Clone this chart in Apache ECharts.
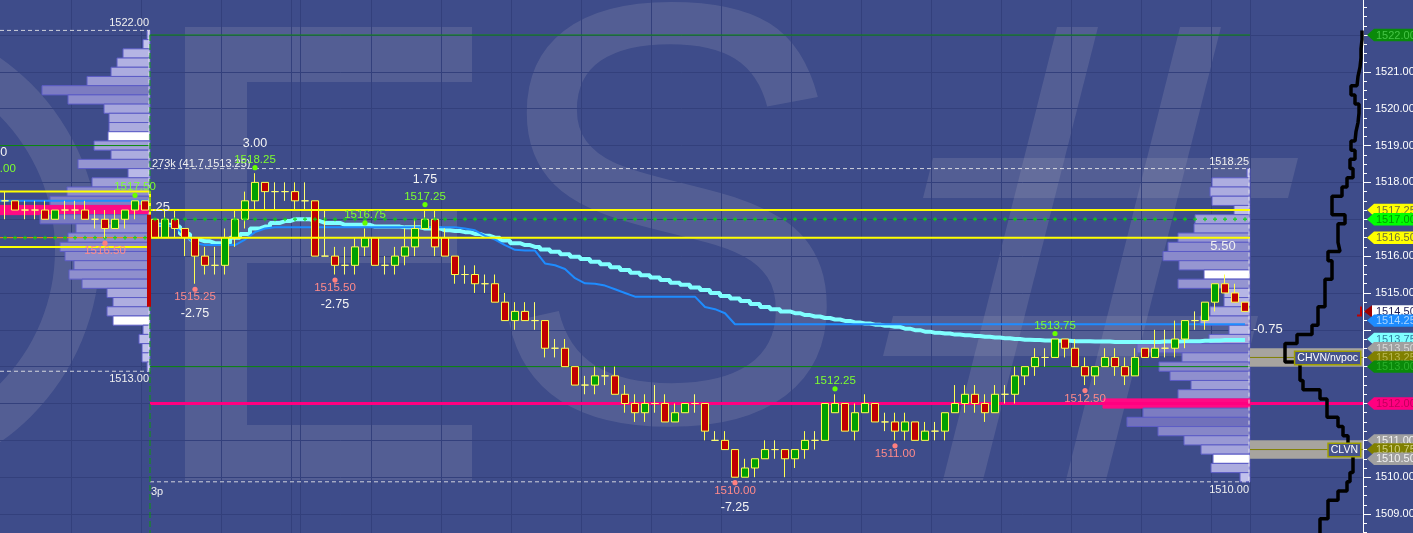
<!DOCTYPE html>
<html>
<head>
<meta charset="utf-8">
<script src="https://cdn.jsdelivr.net/npm/echarts@6/dist/echarts.min.js"></script>
<style>
html,body{margin:0;padding:0;background:#3e4c8a;overflow:hidden;width:1413px;height:533px;}
#chart{position:absolute;left:0;top:-2px;width:1413px;height:556px;}
</style>
</head>
<body>
<div id="chart"></div>
<script>
// ================= DATA =================
// candles: [open, close, low, high]; index 0-14 = previous session tail, 15+ = current session
const candles = [
[1517.5,1517.5,1517.0,1517.75],[1517.5,1517.25,1517.25,1517.5],[1517.25,1517.25,1517.0,1517.5],
[1517.25,1517.25,1517.0,1517.5],[1517.25,1517.0,1517.0,1517.5],[1517.0,1517.25,1517.0,1517.25],
[1517.25,1517.25,1517.0,1517.5],[1517.25,1517.25,1517.0,1517.5],[1517.25,1517.0,1517.0,1517.5],
[1517.0,1517.0,1516.75,1517.25],[1517.0,1516.75,1516.5,1517.25],[1516.75,1517.0,1516.75,1517.25],
[1517.0,1517.25,1516.75,1517.25],[1517.25,1517.5,1517.0,1517.5],[1517.5,1517.25,1517.25,1517.5],
[1517.0,1516.5,1516.5,1517.0],[1516.5,1517.0,1516.5,1517.25],[1517.0,1516.75,1516.5,1517.25],
[1516.75,1516.5,1516.0,1516.75],[1516.5,1516.0,1515.25,1516.5],[1516.0,1515.75,1515.5,1516.25],
[1515.75,1515.75,1515.5,1516.25],[1515.75,1516.5,1515.5,1516.75],[1516.5,1517.0,1516.25,1517.25],
[1517.0,1517.5,1516.75,1517.75],[1517.5,1518.0,1517.25,1518.25],[1518.0,1517.75,1517.25,1518.0],
[1517.75,1517.75,1517.25,1518.0],[1517.75,1517.75,1517.5,1518.0],[1517.75,1517.5,1517.25,1518.0],
[1517.5,1517.5,1517.25,1518.0],[1517.5,1516.0,1516.0,1517.5],[1516.0,1516.0,1516.0,1517.25],
[1516.0,1515.75,1515.5,1516.25],[1515.75,1515.75,1515.5,1516.25],[1515.75,1516.25,1515.5,1516.5],
[1516.25,1516.5,1516.0,1516.75],[1516.5,1515.75,1515.75,1516.5],[1515.75,1515.75,1515.5,1516.0],
[1515.75,1516.0,1515.5,1516.25],[1516.0,1516.25,1515.75,1516.75],[1516.25,1516.75,1516.0,1517.0],
[1516.75,1517.0,1516.75,1517.25],[1517.0,1516.25,1516.0,1517.25],[1516.5,1516.0,1516.0,1516.75],
[1516.0,1515.5,1515.25,1516.0],[1515.5,1515.5,1515.25,1515.75],[1515.5,1515.25,1515.0,1515.75],
[1515.25,1515.25,1515.0,1515.5],[1515.25,1514.75,1514.75,1515.5],[1514.75,1514.25,1514.25,1515.0],
[1514.25,1514.5,1514.0,1514.75],[1514.5,1514.25,1514.25,1514.75],[1514.25,1514.25,1514.0,1514.75],
[1514.25,1513.5,1513.25,1514.25],[1513.5,1513.5,1513.25,1513.75],[1513.5,1513.0,1513.0,1513.75],
[1513.0,1512.5,1512.5,1513.0],[1512.5,1512.5,1512.25,1512.75],[1512.5,1512.75,1512.25,1513.0],
[1512.75,1512.75,1512.5,1513.0],[1512.75,1512.25,1512.25,1513.0],[1512.25,1512.0,1511.75,1512.5],
[1512.0,1511.75,1511.5,1512.25],[1511.75,1512.0,1511.5,1512.25],[1512.0,1512.0,1511.75,1512.5],
[1512.0,1511.5,1511.5,1512.25],[1511.5,1511.75,1511.5,1512.0],[1511.75,1512.0,1511.75,1512.0],
[1512.0,1512.0,1511.75,1512.25],[1512.0,1511.25,1511.0,1512.0],[1511.0,1511.0,1511.0,1511.25],
[1511.0,1510.75,1510.75,1511.25],[1510.75,1510.0,1510.0,1510.75],[1510.0,1510.25,1510.0,1510.5],
[1510.25,1510.5,1510.0,1510.5],[1510.5,1510.75,1510.5,1511.0],[1510.75,1510.75,1510.5,1511.0],
[1510.75,1510.5,1510.0,1510.75],[1510.5,1510.75,1510.25,1510.75],[1510.75,1511.0,1510.5,1511.25],
[1511.0,1511.0,1510.75,1511.25],[1511.0,1512.0,1511.0,1512.0],[1511.75,1512.0,1511.75,1512.25],
[1512.0,1511.25,1511.25,1512.0],[1511.25,1511.75,1511.0,1512.0],[1511.75,1512.0,1511.75,1512.25],
[1512.0,1511.5,1511.5,1512.0],[1511.5,1511.5,1511.25,1511.75],[1511.5,1511.25,1511.0,1511.75],
[1511.25,1511.5,1511.0,1511.75],[1511.5,1511.0,1511.0,1511.5],[1511.0,1511.25,1511.0,1511.5],
[1511.25,1511.25,1511.0,1511.5],[1511.25,1511.75,1511.0,1511.75],[1511.75,1512.0,1511.75,1512.5],
[1512.0,1512.25,1511.75,1512.5],[1512.25,1512.0,1511.75,1512.5],[1512.0,1511.75,1511.5,1512.25],
[1511.75,1512.25,1511.75,1512.5],[1512.25,1512.25,1512.0,1512.5],[1512.25,1512.75,1512.0,1513.0],
[1512.75,1513.0,1512.5,1513.0],[1513.0,1513.25,1512.75,1513.5],[1513.25,1513.25,1513.0,1513.5],
[1513.25,1513.75,1513.25,1513.75],[1513.75,1513.5,1513.25,1513.75],[1513.5,1513.0,1513.0,1513.75],
[1513.0,1512.75,1512.5,1513.25],[1512.75,1513.0,1512.5,1513.0],[1513.0,1513.25,1513.0,1513.5],
[1513.25,1513.0,1512.75,1513.5],[1513.0,1512.75,1512.5,1513.25],[1512.75,1513.25,1512.75,1513.5],
[1513.5,1513.25,1513.25,1513.5],[1513.25,1513.5,1513.25,1514.0],[1513.5,1513.5,1513.25,1514.0],
[1513.5,1513.75,1513.25,1514.25],[1513.75,1514.25,1513.5,1514.25],[1514.25,1514.25,1514.0,1514.5],
[1514.25,1514.75,1514.0,1514.75],[1514.75,1515.25,1514.5,1515.25],[1515.25,1515.0,1515.0,1515.5],
[1515.0,1514.75,1514.75,1515.25],[1514.75,1514.5,1514.5,1514.75]
];
const sessionStartIndex = 15;

// VWAP (cyan) and second average (blue), one value per session bar
const vwapValues = [
1516.85,1516.85,1516.8,1516.6,1516.45,1516.4,1516.35,1516.35,1516.5,1516.6,
1516.75,1516.8,1516.9,1516.95,1517.0,1517.0,1516.95,1516.9,1516.9,1516.85,
1516.85,1516.85,1516.8,1516.8,1516.8,1516.78,1516.78,1516.75,1516.75,1516.7,
1516.68,1516.65,1516.6,1516.55,1516.5,1516.42,1516.35,1516.3,1516.25,1516.18,
1516.12,1516.05,1515.98,1515.92,1515.85,1515.78,1515.7,1515.62,1515.55,1515.48,
1515.42,1515.35,1515.28,1515.22,1515.15,1515.08,1515.0,1514.92,1514.85,1514.78,
1514.7,1514.62,1514.56,1514.5,1514.45,1514.4,1514.36,1514.32,1514.28,1514.24,
1514.2,1514.17,1514.14,1514.11,1514.08,1514.03,1513.99,1513.95,1513.92,1513.9,
1513.87,1513.85,1513.83,1513.81,1513.79,1513.77,1513.75,1513.73,1513.72,1513.71,
1513.7,1513.7,1513.69,1513.69,1513.68,1513.68,1513.67,1513.67,1513.67,1513.67,
1513.67,1513.68,1513.68,1513.69,1513.69,1513.7,1513.71,1513.72,1513.72,1513.72
];
const avg2Values = [
1516.85,1516.85,1516.8,1516.55,1516.35,1516.3,1516.3,1516.3,1516.3,1516.45,
1516.65,1516.75,1516.78,1516.78,1516.78,1516.78,1516.78,1516.78,1516.78,1516.78,
1516.78,1516.78,1516.78,1516.78,1516.78,1516.78,1516.78,1516.78,1516.78,1516.78,
1516.78,1516.75,1516.7,1516.55,1516.45,1516.3,1516.17,1516.15,1516.15,1515.8,
1515.75,1515.65,1515.4,1515.26,1515.25,1515.2,1515.1,1515.0,1514.9,1514.9,
1514.9,1514.9,1514.9,1514.9,1514.9,1514.62,1514.56,1514.45,1514.15,1514.15,
1514.15,1514.15,1514.15,1514.15,1514.15,1514.15,1514.15,1514.15,1514.15,1514.15,
1514.15,1514.15,1514.15,1514.15,1514.15,1514.15,1514.15,1514.15,1514.15,1514.15,
1514.15,1514.15,1514.15,1514.15,1514.15,1514.15,1514.15,1514.15,1514.15,1514.15,
1514.15,1514.15,1514.15,1514.15,1514.15,1514.15,1514.15,1514.15,1514.15,1514.15,
1514.15,1514.15,1514.15,1514.15,1514.15,1514.15,1514.15,1514.15,1514.15,1514.15
];

// Volume profiles: [price, volume]
const rightProfile = [
[1518.25,3],[1518.0,38],[1517.75,40],[1517.5,38],[1517.25,16],[1517.0,55],[1516.75,56],[1516.5,72],
[1516.25,82],[1516.0,87],[1515.75,71],[1515.5,46],[1515.25,72],[1515.0,26],[1514.75,26],[1514.5,40],
[1514.25,50],[1514.0,21],[1513.75,41],[1513.5,113],[1513.25,68],[1513.0,91],[1512.75,80],[1512.5,59],
[1512.25,72],[1512.0,147],[1511.75,107],[1511.5,123],[1511.25,92],[1511.0,66],[1510.75,49],[1510.5,37],
[1510.25,39],[1510.0,10]
];
const rightProfileHvn = [1515.5, 1510.5];
const rightProfilePoc = 1512.0;
const leftProfile = [
[1522.0,3],[1521.75,7],[1521.5,27],[1521.25,33],[1521.0,39],[1520.75,63],[1520.5,108],[1520.25,82],
[1520.0,46],[1519.75,41],[1519.5,41],[1519.25,42],[1519.0,56],[1518.75,39],[1518.5,72],[1518.25,22],
[1518.0,58],[1517.75,83],[1517.5,100],[1517.25,170],[1517.0,110],[1516.75,74],[1516.5,82],[1516.25,90],
[1516.0,85],[1515.75,76],[1515.5,81],[1515.25,68],[1515.0,43],[1514.75,37],[1514.5,43],[1514.25,37],
[1514.0,7],[1513.75,11],[1513.5,8],[1513.25,8],[1513.0,3]
];
const leftProfileHvn = [1519.25, 1514.25];
const leftProfilePoc = 1517.25;

// stepped outline on the far right: [price, value]
const tpoOutline = [
[1522.0,112],[1521.75,111],[1521.5,111],[1521.25,110],[1521.0,108],[1520.75,107],[1520.5,101],[1520.25,105],
[1520.0,109],[1519.75,108],[1519.5,106],[1519.25,105],[1519.0,101],[1518.75,105],[1518.5,100],[1518.25,103],
[1518.0,97],[1517.75,92],[1517.5,82],[1517.25,82],[1517.0,95],[1516.75,88],[1516.5,88],[1516.25,90],
[1516.0,78],[1515.75,82],[1515.5,82],[1515.25,75],[1515.0,75],[1514.75,75],[1514.5,68],[1514.25,68],
[1514.0,62],[1513.75,47],[1513.5,35],[1513.25,35],[1513.0,50],[1512.75,50],[1512.5,53],[1512.25,70],
[1512.0,77],[1511.75,77],[1511.5,88],[1511.25,93],[1511.0,98],[1510.75,103],[1510.5,103],[1510.25,103],
[1510.0,100],[1509.75,97],[1509.5,88],[1509.25,78],[1509.0,78],[1508.75,70],[1508.5,70]
];

// swing points: [barIndex, price, side (1 high / -1 low), change]
const swings = [
[-1,1518.00,1,'1.50'],[13,1517.50,1,''],[10,1516.50,-1,''],
[25,1518.25,1,'3.00'],[19,1515.25,-1,'-2.75'],[36,1516.75,1,''],[42,1517.25,1,'1.75'],
[33,1515.50,-1,'-2.75'],[73,1510.00,-1,'-7.25'],[83,1512.25,1,''],[89,1511.00,-1,''],
[105,1513.75,1,''],[108,1512.50,-1,'']
];

// key levels
const valueAreaLevels = [1517.25, 1516.50];
const prevValueAreaLevels = [1517.75, 1516.25];
const vpocLevel = 1517.00;
const prevRangeLevels = [1522.00, 1513.00];
const nakedPocLevel = 1512.00;
const prevVwapLevel = 1517.5;
const prevBandLevel = 1519.0;
const prevOrangeLevel = 1516.5;
const openingRange = [1514.625, 1517.125];
const chvnBand = [1513.50, 1513.00];
const clvnBand = [1511.00, 1510.50];
const bandLabels = ['CHVN/nvpoc', 'CLVN'];

// axis tags
const tagPrices = [1522.00,1517.25,1517.00,1516.50,1514.50,1514.25,1513.75,1513.50,1513.25,1513.00,1512.00,1511.00,1510.75,1510.50];
const tagRoles  = ['prevHigh','vah','vpoc','val','last','avg2','vwap','chvnTop','chvnMid','prevLow','nakedPoc','clvnTop','clvnMid','clvnBot'];

// profile annotations: [anchor bar, price, text, role]
const profileNotes = [
[14.4,1522.125,'1522.00','hiR'],[14.4,1512.875,'1513.00','loR'],
[124.4,1518.375,'1518.25','hiR'],[124.4,1509.875,'1510.00','loR'],
[14.7,1518.375,'273k (41.7,1513.25)','hiL'],[14.6,1509.875,'3p','loL'],
[121.8,1516.25,'5.50','mid'],[124.8,1514.0,'-0.75','midL'],[14.7,1517.33,'.25','midL']
];
const timeGridBars = [6.6,13.6,21.6,28.6,29.5,36.6,43.6,50.6,57.6,64.6,71.6,78.6,85.6,92.6,99.6,106.6,113.6,120.6,124.5];

// ================= LAYOUT / STYLE =================
const FONT = "'Liberation Sans', Arial, sans-serif";
const NARROW = "'Liberation Sans Narrow', 'Liberation Sans', Arial, sans-serif";
const AXIS_X = 1363, BAR_PX = 10;
const X_MIN = -0.5, X_MAX = X_MIN + AXIS_X / BAR_PX;
const Y_MIN = 1508, Y_MAX = 1523;
const GT = 0.15, GH = 552.75;   // container is shifted up by 2px
const N = candles.length;
const S_EDGE = sessionStartIndex - 0.5, R_EDGE = N - 0.5;
const TICK = 0.25;
const TAG = {
  prevHigh:{fill:'#0a8a0a',text:'#46c446'}, vah:{fill:'#ffff00',text:'#6e6e3c'},
  vpoc:{fill:'#00ff00',text:'#009a00'}, val:{fill:'#ffff00',text:'#6e6e3c'},
  last:{fill:'#ffffff',text:'#1c1c55',arrow:'#a00000'}, avg2:{fill:'#1e8cff',text:'#a8d4ff'},
  vwap:{fill:'#80ffff',text:'#2f7fa0'}, chvnTop:{fill:'#a0a0a0',text:'#d8d8d8'},
  chvnMid:{fill:'#808000',text:'#b8b850'}, prevLow:{fill:'#0a8a0a',text:'#2ab02a'},
  nakedPoc:{fill:'#ff0080',text:'#c0005c'}, clvnTop:{fill:'#a0a0a0',text:'#f0f0f0'},
  clvnMid:{fill:'#808000',text:'#d0d080'}, clvnBot:{fill:'#a0a0a0',text:'#f0f0f0'}
};
const NOTE = {
  hiR:{align:'right',dy:-7,color:'#f0f0f0',size:11,font:NARROW},
  loR:{align:'right',dy:8,color:'#f0f0f0',size:11,font:NARROW},
  hiL:{align:'left',dy:-5,color:'#f0f0f0',size:11,font:NARROW},
  loL:{align:'left',dy:10,color:'#f0f0f0',size:11,font:NARROW},
  mid:{align:'center',dy:0,color:'#f0f0f0',size:13,font:FONT},
  midL:{align:'left',dy:0,color:'#f0f0f0',size:13,font:FONT}
};

function profColor(v){
  const t = Math.min(1, v/130);
  const a=[200,200,240], b=[108,108,184];
  return 'rgb('+a.map((c,k)=>Math.round(c+(b[k]-c)*t)).join(',')+')';
}
function seg(data, lineStyle, z){
  return {type:'line', xAxisIndex:0, yAxisIndex:0, data, symbol:'none', silent:true, lineStyle, z, animation:false};
}
function hSeg(price, x0, x1, lineStyle, z){ return seg([[x0,price],[x1,price]], lineStyle, z); }
function profileSeries(src, hvn, poc, gi){
  return {
    type:'custom', xAxisIndex:gi, yAxisIndex:gi, z:1, clip:false, silent:true,
    data: src.map(d=>[d[1], d[0]]), encode:{x:0,y:1},
    renderItem(params, api){
      const v = api.value(0), p = api.value(1);
      const a = api.coord([0, p + TICK/2]), b = api.coord([v, p - TICK/2]);
      let fill = profColor(v), stroke = '#5c5cc6';
      if (hvn.indexOf(p) >= 0) fill = '#ffffff';
      if (p === poc) { fill = '#ff0a84'; stroke = '#ff0a84'; }
      return {type:'rect', shape:{x:b[0], y:a[1], width:a[0]-b[0], height:b[1]-a[1]},
        style:{fill, stroke, lineWidth:1}};
    }
  };
}
const plusPath = 'path://M1,0H2V1H3V2H2V3H1V2H0V1H1Z';
const sessionIdx = candles.map((c,i)=>i).filter(i=>i>=sessionStartIndex);
const WM = 'rgba(168,168,188,0.2)';

const series = [];
series.push({type:'custom', xAxisIndex:0, yAxisIndex:0, z:0, silent:true, clip:false,
  data: timeGridBars.map(b=>[b, Y_MIN]),
  renderItem(params, api){
    const t = api.coord([timeGridBars[params.dataIndex], Y_MAX]);
    const x = Math.round(t[0]) + 0.5;
    return {type:'line', shape:{x1:x,y1:0,x2:x,y2:api.getHeight()}, style:{stroke:'#33407c', lineWidth:1}};
  }});
series.push(profileSeries(rightProfile, rightProfileHvn, rightProfilePoc, 1));
series.push(profileSeries(leftProfile, leftProfileHvn, leftProfilePoc, 2));
series.push({type:'custom', xAxisIndex:0, yAxisIndex:0, z:1, silent:true, clip:false,
  data:[chvnBand, clvnBand].map(b=>[R_EDGE, b[0], b[1]]),
  renderItem(params, api){
    const a = api.coord([R_EDGE, api.value(1)]), b = api.coord([X_MAX, api.value(2)]);
    return {type:'rect', shape:{x:a[0], y:a[1], width:b[0]-a[0], height:b[1]-a[1]}, style:{fill:'#a7a49f'}};
  }});
series.push(hSeg(nakedPocLevel, S_EDGE, X_MAX, {color:'#ff0080', width:3}, 3));
prevRangeLevels.forEach(p=>series.push(hSeg(p, S_EDGE, R_EDGE, {color:'#0a8a0a', width:1}, 3)));
series.push(hSeg(prevBandLevel, X_MIN, S_EDGE, {color:'#0a8a0a', width:1}, 3));
[ (chvnBand[0]+chvnBand[1])/2, (clvnBand[0]+clvnBand[1])/2 ].forEach(p=>series.push(hSeg(p, R_EDGE, X_MAX, {color:'#808000', width:1}, 3)));
series.push(hSeg(prevVwapLevel, X_MIN, S_EDGE, {color:'#1e8cff', width:2}, 3));
series.push(hSeg(prevOrangeLevel, X_MIN, S_EDGE, {color:'#ff8a00', width:1}, 3));
series.push({type:'scatter', xAxisIndex:0, yAxisIndex:0, z:3, silent:true, symbol:plusPath, symbolSize:4,
  itemStyle:{color:'#00e000'}, data: candles.map((c,i)=>i).filter(i=>i<sessionStartIndex).map(i=>[i, prevOrangeLevel])});
series.push({type:'line', xAxisIndex:0, yAxisIndex:0, z:4, symbol:'none', silent:true, step:'middle',
  data: vwapValues.map((v,k)=>[sessionStartIndex+k, v]), lineStyle:{color:'#80ffff', width:4}});
series.push({type:'line', xAxisIndex:0, yAxisIndex:0, z:4, symbol:'none', silent:true,
  data: avg2Values.map((v,k)=>[sessionStartIndex+k, v]), lineStyle:{color:'#1e8cff', width:2}});
series.push({type:'candlestick', xAxisIndex:0, yAxisIndex:0, z:5, barWidth:8, silent:true,
  data: candles.map((c,i)=>[i, c[0], c[1], c[2], c[3]]), encode:{x:0, y:[1,2,3,4]},
  itemStyle:{color:'#00a000', color0:'#c00000', borderColor:'#ffff50', borderColor0:'#ffff50', borderColorDoji:'#ffff70', borderWidth:1}});
valueAreaLevels.forEach(p=>series.push(hSeg(p, S_EDGE, R_EDGE, {color:'#ffff00', width:2}, 6)));
series.push(seg([[X_MIN,prevValueAreaLevels[0]],[S_EDGE,prevValueAreaLevels[0]],[S_EDGE,prevValueAreaLevels[1]],[X_MIN,prevValueAreaLevels[1]]], {color:'#ffff00', width:2}, 6));
series.push({type:'scatter', xAxisIndex:0, yAxisIndex:0, z:6, silent:true, symbol:plusPath, symbolSize:4,
  itemStyle:{color:'#00e000'}, data: sessionIdx.map(i=>[i, vpocLevel])});
const dash = {color:'rgba(235,235,235,0.85)', width:1, type:[4,3]};
series.push(hSeg(leftProfile[0][0]+TICK/2, X_MIN, S_EDGE, dash, 6));
series.push(hSeg(leftProfile[leftProfile.length-1][0]-TICK/2, X_MIN, S_EDGE, dash, 6));
series.push(hSeg(rightProfile[0][0]+TICK/2, S_EDGE, R_EDGE, dash, 6));
series.push(hSeg(rightProfile[rightProfile.length-1][0]-TICK/2, S_EDGE, R_EDGE, dash, 6));
series.push(seg([[S_EDGE-0.1, leftProfile[0][0]+TICK/2],[S_EDGE-0.1, leftProfile[leftProfile.length-1][0]-TICK/2]], dash, 6));
series.push(seg([[R_EDGE-0.1, rightProfile[0][0]+TICK/2],[R_EDGE-0.1, rightProfile[rightProfile.length-1][0]-TICK/2]], dash, 6));
series.push(seg([[S_EDGE, prevRangeLevels[0]],[S_EDGE, Y_MIN]], {color:'#0a9a0a', width:1, type:[6,3]}, 6));
series.push(seg([[S_EDGE-0.1, openingRange[0]],[S_EDGE-0.1, openingRange[1]]], {color:'#c00000', width:4}, 6));
series.push({type:'custom', xAxisIndex:0, yAxisIndex:0, z:7, silent:true, clip:false,
  data: profileNotes.map(n=>[n[0], n[1]]),
  renderItem(params, api){
    const n = profileNotes[params.dataIndex], st = NOTE[n[3]];
    const pt = api.coord([n[0], n[1]]);
    return {type:'text', style:{text:n[2], x:pt[0], y:pt[1]+st.dy, align:st.align, verticalAlign:'middle',
      fill:st.color, fontSize:st.size, fontFamily:st.font}};
  }});
series.push({type:'custom', xAxisIndex:0, yAxisIndex:0, z:8, silent:true, clip:false,
  data: swings.map(s=>[s[0], s[1]]),
  renderItem(params, api){
    const s = swings[params.dataIndex];
    const pt = api.coord([s[0], s[1]]);
    const dir = s[2] > 0 ? -1 : 1;
    const col = s[2] > 0 ? '#7dff2e' : '#ff8a8a';
    const ch = [
      {type:'circle', shape:{cx:pt[0], cy:pt[1]+dir*5.5, r:2.6}, style:{fill: s[2]>0 ? '#66ff00' : '#ff8080'}},
      {type:'text', style:{text:s[1].toFixed(2), x:pt[0], y:pt[1]+dir*13.5, align:'center', verticalAlign:'middle', fill:col, fontSize:11.5, fontFamily:FONT}}
    ];
    if (s[3]) ch.push({type:'text', style:{text:s[3], x:pt[0], y:pt[1]+dir*30, align:'center', verticalAlign:'middle', fill:'#f4f4f4', fontSize:12.5, fontFamily:FONT}});
    return {type:'group', children:ch};
  }});
const tpoPts = [];
tpoOutline.forEach(d=>{ tpoPts.push([d[1], d[0]+TICK/2]); tpoPts.push([d[1], d[0]-TICK/2]); });
series.push({type:'line', xAxisIndex:3, yAxisIndex:3, z:7, symbol:'none', silent:true, data:tpoPts,
  lineStyle:{color:'#000000', width:3.5}});
series.push({type:'custom', xAxisIndex:0, yAxisIndex:0, z:9, silent:true, clip:false,
  data:[chvnBand, clvnBand].map(b=>[X_MAX, (b[0]+b[1])/2]),
  renderItem(params, api){
    const pt = api.coord([X_MAX, api.value(1)]);
    const txt = bandLabels[params.dataIndex];
    return {type:'text', style:{text:txt, x:pt[0]-3, y:pt[1]+0.5, align:'right', verticalAlign:'middle',
      fill:'#ffffff', fontSize:10.5, fontFamily:FONT, backgroundColor:'#46538c', borderColor:'#a0a000', borderWidth:1.5, padding:[1,2,0,2]}};
  }});
series.push({type:'custom', xAxisIndex:0, yAxisIndex:0, z:10, silent:true, clip:false,
  data: tagPrices.map(p=>[X_MAX, p]),
  renderItem(params, api){
    const p = tagPrices[params.dataIndex], st = TAG[tagRoles[params.dataIndex]];
    const pt = api.coord([X_MAX, p]);
    const x = pt[0], y = pt[1], h = 6.2, R = api.getWidth();
    const ch = [];
    if (st.arrow) {
      ch.push({type:'polygon', shape:{points:[[x+1,y],[x+9,y-h],[x+9,y+h]]}, style:{fill:st.arrow}});
      ch.push({type:'rect', shape:{x:x+9, y:y-h, width:R-x-9, height:2*h}, style:{fill:st.fill}});
      ch.push({type:'polyline', shape:{points:[[x-6,y+4],[x-2,y+4],[x-2,y-5]]}, style:{stroke:'#c00000', lineWidth:2, fill:null}});
    } else {
      ch.push({type:'polygon', shape:{points:[[x+4,y],[x+11,y-h],[R,y-h],[R,y+h],[x+11,y+h]]}, style:{fill:st.fill}});
    }
    ch.push({type:'text', style:{text:p.toFixed(2), x:x+13, y:y+0.5, align:'left', verticalAlign:'middle', fill:st.text, fontSize:11, fontFamily:NARROW}});
    return {type:'group', children:ch};
  }});

const gridBase = {top:GT, height:GH, containLabel:false, outerBoundsMode:'none'};
const SHIFT = 2; // container offset
const off = {show:false, axisLine:{show:false, onZero:false}, axisTick:{show:false}, axisLabel:{show:false}, splitLine:{show:false}};
const option = {
  animation:false,
  backgroundColor:'#3e4c8a',
  graphic:[
    {type:'sector', z:-10, silent:true, shape:{cx:-135, cy:250+SHIFT, r:235, r0:190, startAngle:-Math.PI/2, endAngle:Math.PI/2}, style:{fill:WM}},
    {type:'rect', z:-10, silent:true, shape:{x:185,y:27+SHIFT,width:62,height:453}, style:{fill:WM}},
    {type:'rect', z:-10, silent:true, shape:{x:247,y:27+SHIFT,width:225,height:55}, style:{fill:WM}},
    {type:'rect', z:-10, silent:true, shape:{x:247,y:210+SHIFT,width:210,height:53}, style:{fill:WM}},
    {type:'rect', z:-10, silent:true, shape:{x:247,y:425+SHIFT,width:225,height:55}, style:{fill:WM}},
    {type:'text', z:-10, silent:true, x:668, y:255.5+SHIFT, scaleX:0.92, style:{text:'S', x:0, y:0, align:'center', verticalAlign:'middle', fontSize:600, fontFamily:FONT, fill:WM}},
    {type:'polygon', z:-10, silent:true, shape:{points:[[1057,27+SHIFT],[1098,27+SHIFT],[983,480+SHIFT],[943,480+SHIFT]]}, style:{fill:WM}},
    {type:'polygon', z:-10, silent:true, shape:{points:[[1180,27+SHIFT],[1221,27+SHIFT],[1106,480+SHIFT],[1066,480+SHIFT]]}, style:{fill:WM}},
    {type:'polygon', z:-10, silent:true, shape:{points:[[933,158+SHIFT],[1298,158+SHIFT],[1288,198+SHIFT],[923,198+SHIFT]]}, style:{fill:WM}},
    {type:'polygon', z:-10, silent:true, shape:{points:[[893,316+SHIFT],[1258,316+SHIFT],[1248,356+SHIFT],[883,356+SHIFT]]}, style:{fill:WM}}
  ],
  grid:[
    Object.assign({left:0, width:AXIS_X}, gridBase),
    Object.assign({left:0, width:(R_EDGE-X_MIN)*BAR_PX}, gridBase),
    Object.assign({left:0, width:(S_EDGE-X_MIN)*BAR_PX}, gridBase),
    Object.assign({left:(R_EDGE-X_MIN)*BAR_PX, width:AXIS_X-(R_EDGE-X_MIN)*BAR_PX}, gridBase)
  ],
  xAxis:[
    Object.assign({type:'value', gridIndex:0, min:X_MIN, max:X_MAX}, off),
    Object.assign({type:'value', gridIndex:1, min:0, max:(R_EDGE-X_MIN)*BAR_PX, inverse:true}, off),
    Object.assign({type:'value', gridIndex:2, min:0, max:(S_EDGE-X_MIN)*BAR_PX, inverse:true}, off),
    Object.assign({type:'value', gridIndex:3, min:0, max:AXIS_X-(R_EDGE-X_MIN)*BAR_PX}, off)
  ],
  yAxis:[
    {type:'value', gridIndex:0, position:'right', min:Y_MIN, max:Y_MAX, interval:1,
     axisLine:{show:true, onZero:false, lineStyle:{color:'#ffffff', width:1}},
     axisTick:{show:true, length:8, lineStyle:{color:'#ffffff'}},
     minorTick:{show:true, splitNumber:4, length:4, lineStyle:{color:'#ffffff'}},
     splitLine:{show:true, lineStyle:{color:'#33407c', width:1}},
     axisLabel:{show:true, margin:12, color:'#ffffff', fontSize:11, fontFamily:NARROW, showMinLabel:false, showMaxLabel:false,
       formatter:v=> tagPrices.some(p=>Math.abs(p-v)<0.3) ? '' : v.toFixed(2)}},
    Object.assign({type:'value', gridIndex:1, min:Y_MIN, max:Y_MAX}, off),
    Object.assign({type:'value', gridIndex:2, min:Y_MIN, max:Y_MAX}, off),
    Object.assign({type:'value', gridIndex:3, min:Y_MIN, max:Y_MAX}, off)
  ],
  series
};
const chart = echarts.init(document.getElementById('chart'), null, {renderer:'canvas'});
chart.setOption(option);
</script>
</body>
</html>
